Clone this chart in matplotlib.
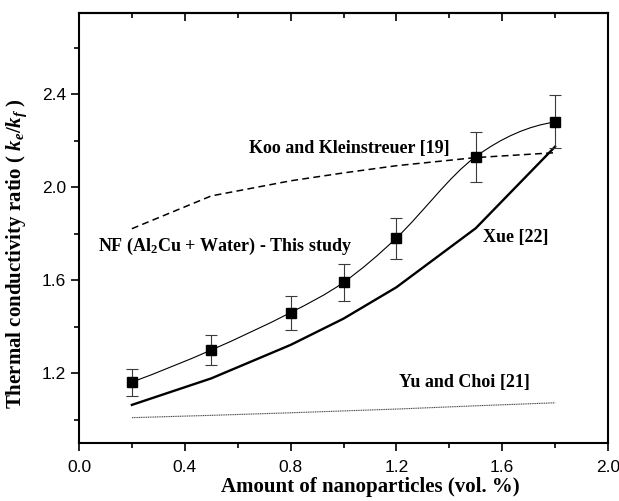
import matplotlib
matplotlib.use("Agg")
import matplotlib.pyplot as plt
from matplotlib.path import Path
from matplotlib.patches import PathPatch
from matplotlib.ticker import MultipleLocator, FormatStrFormatter

# volume fraction (vol. %)
vol = [0.2, 0.5, 0.8, 1.0, 1.2, 1.5, 1.8]

# NF (Al2Cu + Water) - this study, with error bar ends
this_study = [1.162, 1.300, 1.461, 1.591, 1.782, 2.132, 2.281]
err_low = [1.102, 1.236, 1.388, 1.512, 1.692, 2.024, 2.170]
err_high = [1.220, 1.365, 1.534, 1.669, 1.869, 2.237, 2.396]

# models
xue = [1.064, 1.178, 1.322, 1.435, 1.570, 1.824, 2.175]
koo = [1.822, 1.963, 2.028, 2.062, 2.093, 2.128, 2.149]
yu_choi = [1.009, 1.019, 1.030, 1.038, 1.046, 1.060, 1.073]

x_ticks = [0.0, 0.4, 0.8, 1.2, 1.6, 2.0]

plt.rcParams["mathtext.fontset"] = "custom"
plt.rcParams["mathtext.rm"] = "Liberation Serif:bold"
plt.rcParams["mathtext.bf"] = "Liberation Serif:bold"
plt.rcParams["mathtext.it"] = "Liberation Serif:italic:bold"


def spline_path(xs, ys):
    # smooth curve through the points (cubic hermite drawn as bezier segments)
    n = len(xs)
    slopes = [0.0] * n
    for i in range(1, n - 1):
        slopes[i] = (ys[i + 1] - ys[i - 1]) / (xs[i + 1] - xs[i - 1])
    s_first = (ys[1] - ys[0]) / (xs[1] - xs[0])
    s_last = (ys[-1] - ys[-2]) / (xs[-1] - xs[-2])
    slopes[0] = 2 * s_first - slopes[1]
    slopes[-1] = 2 * s_last - slopes[-2]
    verts = [(xs[0], ys[0])]
    codes = [Path.MOVETO]
    for i in range(n - 1):
        h = xs[i + 1] - xs[i]
        verts += [(xs[i] + h / 3, ys[i] + slopes[i] * h / 3),
                  (xs[i + 1] - h / 3, ys[i + 1] - slopes[i + 1] * h / 3),
                  (xs[i + 1], ys[i + 1])]
        codes += [Path.CURVE4] * 3
    return Path(verts, codes)


fig = plt.figure(figsize=(6.19, 5.01), dpi=100)
ax = fig.add_axes([79 / 619, 1 - 443 / 501, (608 - 79) / 619, (443 - 13) / 501])

ax.add_patch(PathPatch(spline_path(vol, this_study), fill=False, lw=0.8,
                       edgecolor="black"))

yerr = [[m - lo for m, lo in zip(this_study, err_low)],
        [hi - m for m, hi in zip(this_study, err_high)]]
ax.errorbar(vol, this_study, yerr=yerr, fmt="none", ecolor="#3a3a3a",
            elinewidth=0.8, capsize=4, capthick=0.8, zorder=3)
ax.plot(vol, this_study, ls="none", marker="s", ms=6.5, color="black", zorder=4)

ax.plot(vol, xue, color="black", lw=1.7)
ax.plot(vol, koo, color="black", lw=1.1, ls=(0, (4.5, 2.8)))
ax.plot(vol, yu_choi, color="#444444", lw=0.8, ls=(0, (1, 0.6)))

tf = dict(family="Liberation Serif", fontweight="bold", fontsize=13)
ax.text(0.643, 2.165, "Koo and Kleinstreuer [19]", ha="left", va="center", **tf)
ax.text(1.527, 1.786, "Xue [22]", ha="left", va="center", **tf)
ax.text(0.072, 1.726, r"NF (Al$_{2}$Cu + Water) - This study", ha="left", va="baseline", **tf)
ax.text(1.21, 1.16, "Yu and Choi [21]", ha="left", va="center", **tf)

ax.set_xlim(0, 2.0)
ax.set_ylim(0.9, 2.75)
ax.set_xticks(x_ticks)
ax.xaxis.set_minor_locator(MultipleLocator(0.2))
ax.yaxis.set_major_locator(MultipleLocator(0.4))
ax.yaxis.set_minor_locator(MultipleLocator(0.2))
ax.xaxis.set_major_formatter(FormatStrFormatter("%.1f"))
ax.yaxis.set_major_formatter(FormatStrFormatter("%.1f"))

ax.tick_params(axis="both", which="major", direction="out", length=6, width=1.2,
               labelsize=12.5)
ax.tick_params(axis="both", which="minor", direction="out", length=3.5, width=1.2)
ax.tick_params(axis="x", pad=6)
for lab in ax.get_xticklabels() + ax.get_yticklabels():
    lab.set_family("Liberation Sans")

top = ax.secondary_xaxis("top")
top.set_xticks(x_ticks)
top.xaxis.set_minor_locator(MultipleLocator(0.2))
top.tick_params(which="major", direction="in", length=6, width=1.2, labeltop=False)
top.tick_params(which="minor", direction="in", length=3.5, width=1.2)
top.spines["top"].set_linewidth(1.5)

for sp in ax.spines.values():
    sp.set_linewidth(1.5)

ax.set_xlabel("Amount of nanoparticles (vol. %)", family="Liberation Serif",
              fontweight="bold", fontsize=15)
ax.xaxis.set_label_coords(0.55, -0.078)
ax.set_ylabel(r"Thermal conductivity ratio ( $k_e$/$k_f$ )", family="Liberation Serif",
              fontweight="bold", fontsize=15)
ax.yaxis.set_label_coords(-0.095, 0.44)

fig.savefig("out.png", dpi=100)
